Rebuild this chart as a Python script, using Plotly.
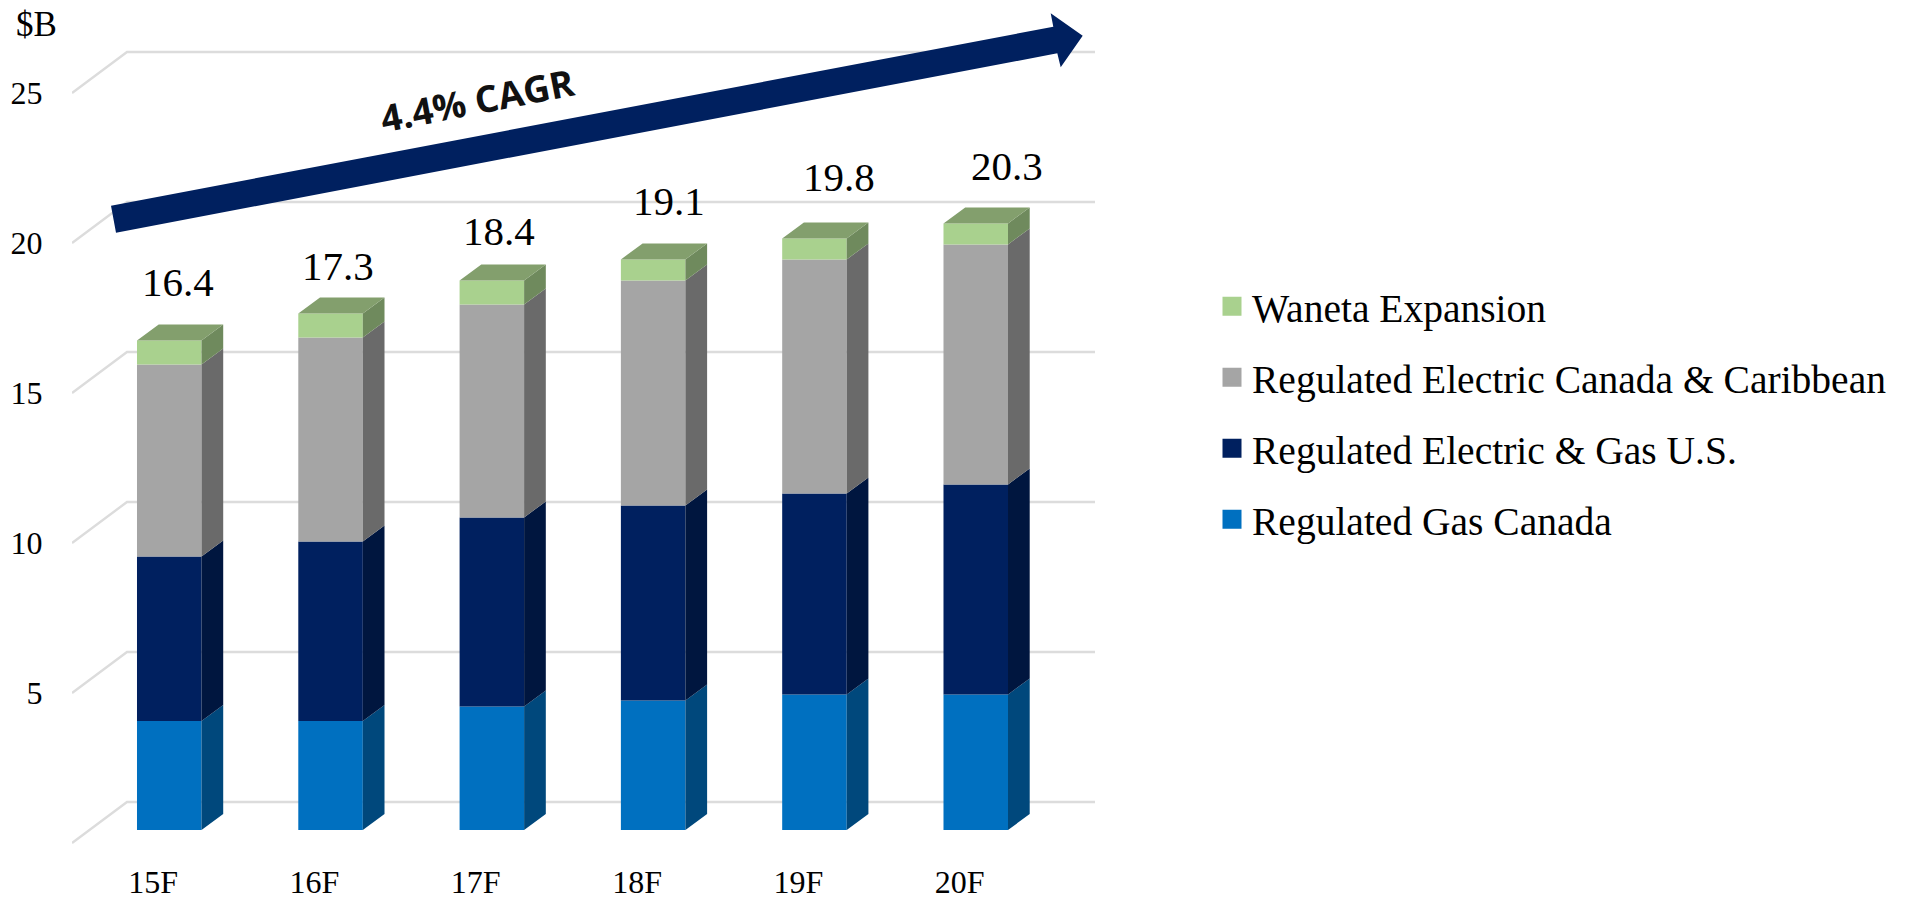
import plotly.graph_objects as go

categories = ["15F", "16F", "17F", "18F", "19F", "20F"]
gas_canada = [3.63, 3.63, 4.12, 4.32, 4.52, 4.52]
electric_gas_us = [5.49, 5.99, 6.30, 6.50, 6.70, 7.00]
electric_canada_caribbean = [6.40, 6.80, 7.10, 7.50, 7.80, 8.00]
waneta = [0.80, 0.80, 0.80, 0.70, 0.70, 0.70]
totals = ["16.4", "17.3", "18.4", "19.1", "19.8", "20.3"]
grid_values = [0, 5, 10, 15, 20, 25]
y_tick_values = [5, 10, 15, 20, 25]

series = [
    ("Regulated Gas Canada", gas_canada, "#0070C0", "#00487C"),
    ("Regulated Electric & Gas U.S.", electric_gas_us, "#00205F", "#00163F"),
    ("Regulated Electric Canada & Caribbean", electric_canada_caribbean, "#A5A5A5", "#6A6A6A"),
    ("Waneta Expansion", waneta, "#A9D18E", "#6F8A5D"),
]
TOP_FACE = "#839F6D"
SERIF = "Liberation Serif"

W, H = 1916, 899
PX_L, PX_R, PX_T, PX_B = 72, 1095, 20, 850
SPACING, CX0 = 161.3, 169.25
PER_UNIT = 30.0
BAR_W = 0.4
DEPTH_X, DEPTH_Y = 21.7 / SPACING, 16 / PER_UNIT
GRID_BACK_X, GRID_DY = 55 / SPACING, 41 / PER_UNIT
BASE_FRONT, BASE_BAR = 843, 830

xr = [(PX_L - CX0) / SPACING, (PX_R - CX0) / SPACING]
yr = [(BASE_FRONT - PX_B) / PER_UNIT, (BASE_FRONT - PX_T) / PER_UNIT]
y2r = [(BASE_BAR - PX_B) / PER_UNIT, (BASE_BAR - PX_T) / PER_UNIT]
idx = list(range(len(categories)))

fig = go.Figure()

# gridlines: slanted side-wall + back-wall
gx, gy = [], []
for v in grid_values:
    gx += [xr[0], xr[0] + GRID_BACK_X, xr[1], None]
    gy += [v, v + GRID_DY, v + GRID_DY, None]
fig.add_trace(go.Scatter(x=gx, y=gy, mode="lines", line=dict(color="#DCDCDC", width=2.4),
                         hoverinfo="skip", showlegend=False))

base = [0.0] * len(idx)
for name, vals, col, side in series:
    fig.add_trace(go.Bar(x=idx, y=vals, base=base, width=BAR_W, yaxis="y2", marker=dict(color=col, line=dict(width=0)),
                         name=name, showlegend=False))
    sx, sy = [], []
    for i, b, v in zip(idx, base, vals):
        r = i + BAR_W / 2
        sx += [r, r + DEPTH_X, r + DEPTH_X, r, r, None]
        sy += [b, b + DEPTH_Y, b + v + DEPTH_Y, b + v, b, None]
    fig.add_trace(go.Scatter(x=sx, y=sy, yaxis="y2", mode="lines", fill="toself", fillcolor=side,
                             line=dict(width=0, color=side), hoverinfo="skip", showlegend=False))
    base = [b + v for b, v in zip(base, vals)]

tx, ty = [], []
for i, t in zip(idx, base):
    l, r = i - BAR_W / 2, i + BAR_W / 2
    tx += [l, r, r + DEPTH_X, l + DEPTH_X, l, None]
    ty += [t, t, t + DEPTH_Y, t + DEPTH_Y, t, None]
fig.add_trace(go.Scatter(x=tx, y=ty, yaxis="y2", mode="lines", fill="toself", fillcolor=TOP_FACE,
                         line=dict(width=0, color=TOP_FACE), hoverinfo="skip", showlegend=False))

# legend entries (top-to-bottom order as in the reference)
for name, vals, col, side in reversed(series):
    fig.add_trace(go.Scatter(x=[None], y=[None], yaxis="y2", mode="markers", name=name, legendgroup=name,
                             marker=dict(symbol="square", size=16, color=col, line=dict(width=3, color=col))))

LABEL_DX = [8.25, 7.5, 6.75, 15.5, 25, 31]
LABEL_SHIFT = [58.5, 47, 49, 58, 61.5, 57]
for i, t, txt, dx, dy in zip(idx, base, totals, LABEL_DX, LABEL_SHIFT):
    fig.add_annotation(x=i, y=t, yref="y2", text=txt, showarrow=False, xshift=dx, yshift=dy,
                       xanchor="center", yanchor="middle",
                       font=dict(family=SERIF, size=41, color="black"))

def px(x): return (x - PX_L) / (PX_R - PX_L)
def py(y): return 1 - (y - PX_T) / (PX_B - PX_T)

fig.add_annotation(xref="paper", yref="paper", x=px(36), y=py(25), text="$B", showarrow=False,
                   xanchor="center", yanchor="middle",
                   font=dict(family=SERIF, size=35, color="black"))
fig.add_annotation(xref="paper", yref="paper", x=px(477), y=py(100), text="4.4% CAGR", textangle=-11, showarrow=False,
                   xanchor="center", yanchor="middle",
                   font=dict(family="Open Sans", size=37, color="#111111", weight=700))

arrow = [(111, 205.7), (1053.3, 26.7), (1050.7, 13.3), (1082.7, 35.7), (1060.7, 67.3), (1057.3, 53.3), (116, 232.7)]
path = "M" + " L".join(f"{px(x)},{py(y)}" for x, y in arrow) + " Z"
fig.add_shape(type="path", xref="paper", yref="paper", path=path, fillcolor="#00205F", line=dict(width=0), layer="above")

fig.update_layout(
    width=W, height=H, barmode="overlay", plot_bgcolor="white", paper_bgcolor="white",
    margin=dict(l=PX_L, r=W - PX_R, t=PX_T, b=H - PX_B, pad=0, autoexpand=False),
    xaxis=dict(range=xr, tickmode="array", tickvals=[i - 0.1 for i in idx], ticktext=categories,
               showgrid=False, zeroline=False, showline=False, ticks="outside", ticklen=4, tickcolor="white",
               tickfont=dict(family=SERIF, size=32, color="black")),
    yaxis=dict(range=yr, tickmode="array", tickvals=y_tick_values, showgrid=False, zeroline=False, showline=False,
               ticks="outside", ticklen=22, tickcolor="white",
               tickfont=dict(family=SERIF, size=32, color="black")),
    yaxis2=dict(range=y2r, overlaying="y", side="left", visible=False),
    legend=dict(x=(1212 - PX_L) / (PX_R - PX_L), y=py(274), xanchor="left", yanchor="top",
                font=dict(family=SERIF, size=39.5, color="black"), traceorder="grouped", tracegroupgap=16.7,
                borderwidth=0, bgcolor="rgba(0,0,0,0)", itemclick=False, itemdoubleclick=False),
    showlegend=True,
)
fig.write_html("out.html", post_script="document.body.style.margin='0';", config={"displayModeBar": False})
